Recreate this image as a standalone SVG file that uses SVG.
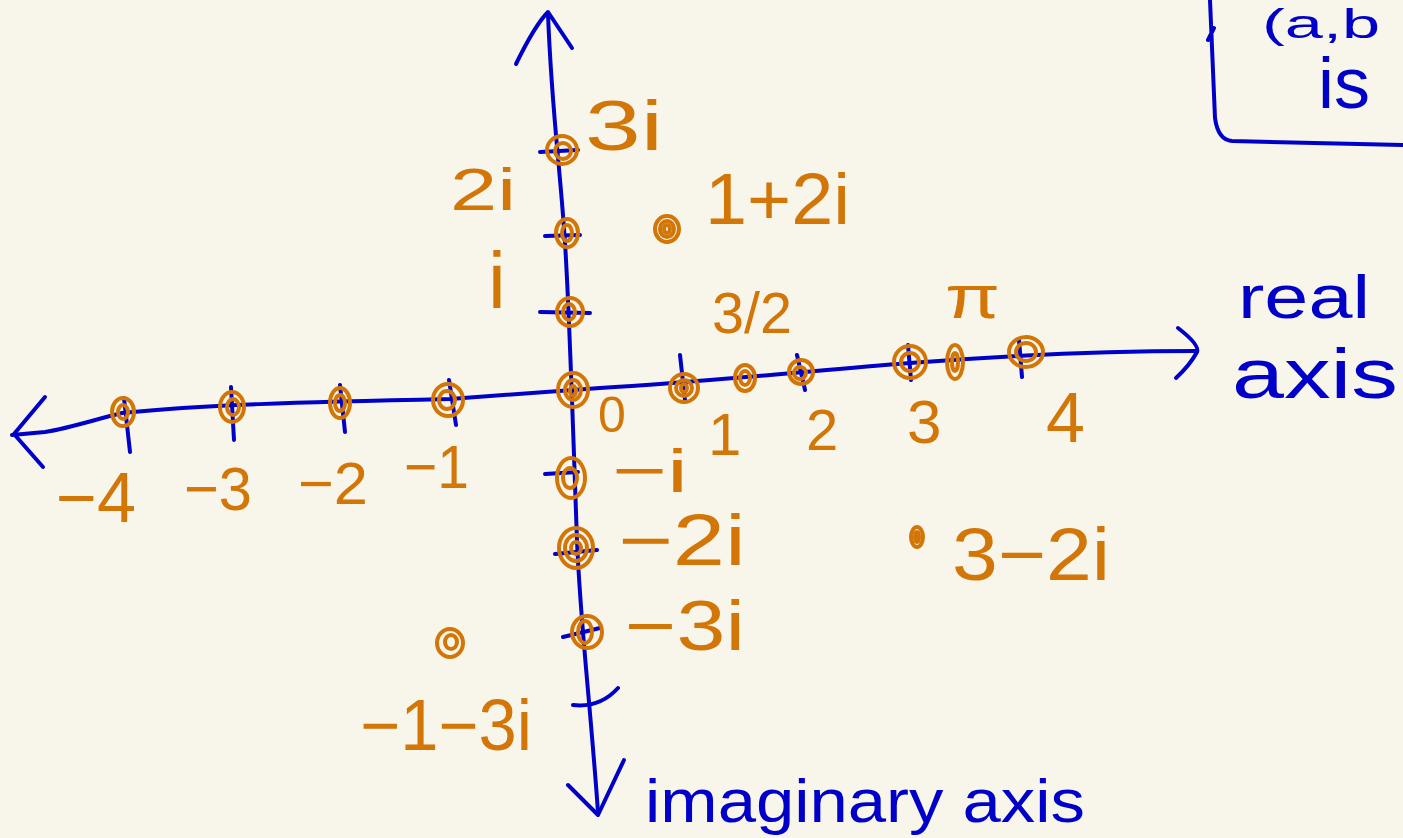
<svg xmlns="http://www.w3.org/2000/svg" width="1403" height="838" viewBox="0 0 1403 838">
<style>
.ax{fill:none;stroke:#0000c8;stroke-width:4;stroke-linecap:round;stroke-linejoin:round}
.pt{fill:none;stroke:#d27607;stroke-width:4}
.lb{fill:#d27607;font-family:"Liberation Sans",Arial,sans-serif}
.bl{fill:#0000c8;font-family:"Liberation Sans",Arial,sans-serif}
</style>
<rect width="1403" height="838" fill="#f8f6eb"/>
<g id="connectors">
<path class="ax" d="M548,14 C552,120 562,180 566,260 C570,330 573,430 577,540 C580,620 590,700 598,812"/>
<path class="ax" d="M516,64 Q535,25 548,12 Q560,30 572,48"/>
<path class="ax" d="M568,785 L598,815 L624,760"/>
<path class="ax" d="M12,435 L45,432 C70,428 100,418 122,413 C200,405 300,402 450,399 C520,394 560,391 600,388 C700,382 800,372 910,363 C1000,356 1100,351 1196,351"/>
<path class="ax" d="M45,397 L14,434 L43,467"/>
<path class="ax" d="M1178,328 Q1200,345 1197,352 Q1190,365 1176,378"/>
<path class="ax" d="M540,152 L578,150 M545,236 L580,235 M540,312 L590,313 M545,474 L578,472 M555,554 L597,550 M563,637 L600,628 M573,705 Q600,708 618,688"/>
<path class="ax" d="M124,398 L130,452 M231,387 L234,440 M340,385 L345,432 M449,380 L456,425 M680,355 L685,400 M797,355 L805,390 M908,345 L911,380 M1019,340 L1022,377"/>
<path class="ax" d="M1210,0 L1215,118 Q1218,140 1232,141 L1403,145 M1208,40 L1214,28"/>
</g>
<g id="box-text">
<text class="bl" x="1262" y="38" font-size="40" textLength="118" lengthAdjust="spacingAndGlyphs">(a,b</text>
<text class="bl" x="1318" y="108" font-size="72" textLength="52" lengthAdjust="spacingAndGlyphs">is</text>
</g>
<g id="axis-labels">
<text class="bl" x="1238" y="318" font-size="62" textLength="132" lengthAdjust="spacingAndGlyphs">real</text>
<text class="bl" x="1232" y="398" font-size="70" textLength="166" lengthAdjust="spacingAndGlyphs">axis</text>
<text class="bl" x="645" y="822" font-size="62" textLength="440" lengthAdjust="spacingAndGlyphs">imaginary axis</text>
</g>
<g id="p-3i"><ellipse class="pt" cx="562" cy="150" rx="15" ry="14"/><ellipse class="pt" cx="563" cy="151" rx="8" ry="8"/>
<text class="lb" x="585" y="150" font-size="70" textLength="78" lengthAdjust="spacingAndGlyphs">3i</text></g>
<g id="p-2i"><ellipse class="pt" cx="567" cy="233" rx="11" ry="14"/><ellipse class="pt" cx="567" cy="233" rx="5" ry="8"/>
<text class="lb" x="450" y="210" font-size="60" textLength="66" lengthAdjust="spacingAndGlyphs">2i</text></g>
<g id="p-i"><ellipse class="pt" cx="570" cy="312" rx="13" ry="14"/><ellipse class="pt" cx="569" cy="312" rx="6" ry="8"/>
<text class="lb" x="488" y="308" font-size="80">i</text></g>
<g id="p-0"><ellipse class="pt" cx="573" cy="390" rx="15" ry="17"/><ellipse class="pt" cx="573" cy="390" rx="8" ry="10"/><ellipse class="pt" cx="573" cy="391" rx="3" ry="5"/>
<text class="lb" x="598" y="432" font-size="50">0</text></g>
<g id="p-neg-i"><ellipse class="pt" cx="571" cy="478" rx="14" ry="20"/><ellipse class="pt" cx="570" cy="478" rx="7" ry="10"/>
<text class="lb" x="612" y="492" font-size="62" textLength="76" lengthAdjust="spacingAndGlyphs">−i</text></g>
<g id="p-neg-2i"><ellipse class="pt" cx="576" cy="548" rx="17" ry="20"/><ellipse class="pt" cx="576" cy="548" rx="11" ry="13"/><ellipse class="pt" cx="576" cy="548" rx="5" ry="6"/>
<text class="lb" x="618" y="565" font-size="72" textLength="128" lengthAdjust="spacingAndGlyphs">−2i</text></g>
<g id="p-neg-3i"><ellipse class="pt" cx="587" cy="632" rx="15" ry="16"/><ellipse class="pt" cx="585" cy="632" rx="7" ry="11"/>
<text class="lb" x="625" y="650" font-size="70" textLength="120" lengthAdjust="spacingAndGlyphs">−3i</text></g>
<g id="p-neg4"><ellipse class="pt" cx="123" cy="412" rx="11" ry="14"/><ellipse class="pt" cx="123" cy="412" rx="5" ry="7"/>
<text class="lb" x="56" y="522" font-size="70" textLength="80" lengthAdjust="spacingAndGlyphs">−4</text></g>
<g id="p-neg3"><ellipse class="pt" cx="232" cy="407" rx="12" ry="15"/><ellipse class="pt" cx="233" cy="407" rx="6" ry="8"/>
<text class="lb" x="184" y="510" font-size="62" textLength="68" lengthAdjust="spacingAndGlyphs">−3</text></g>
<g id="p-neg2"><ellipse class="pt" cx="340" cy="403" rx="10" ry="15"/><ellipse class="pt" cx="340" cy="403" rx="5" ry="8"/>
<text class="lb" x="298" y="504" font-size="60" textLength="70" lengthAdjust="spacingAndGlyphs">−2</text></g>
<g id="p-neg1"><ellipse class="pt" cx="448" cy="400" rx="15" ry="16"/><ellipse class="pt" cx="447" cy="400" rx="8" ry="9"/>
<text class="lb" x="404" y="488" font-size="62" textLength="65" lengthAdjust="spacingAndGlyphs">−1</text></g>
<g id="p-1"><ellipse class="pt" cx="684" cy="388" rx="14" ry="14"/><ellipse class="pt" cx="684" cy="388" rx="8" ry="8"/><ellipse class="pt" cx="684" cy="388" rx="3" ry="4"/>
<text class="lb" x="708" y="455" font-size="60">1</text></g>
<g id="p-3-2"><ellipse class="pt" cx="745" cy="378" rx="10" ry="13"/><ellipse class="pt" cx="745" cy="378" rx="5" ry="7"/>
<text class="lb" x="712" y="333" font-size="58" textLength="80" lengthAdjust="spacingAndGlyphs">3/2</text></g>
<g id="p-2"><ellipse class="pt" cx="801" cy="372" rx="12" ry="12"/><ellipse class="pt" cx="800" cy="373" rx="6" ry="6"/>
<text class="lb" x="806" y="450" font-size="58">2</text></g>
<g id="p-3"><ellipse class="pt" cx="910" cy="362" rx="16" ry="16"/><ellipse class="pt" cx="910" cy="362" rx="9" ry="9"/>
<text class="lb" x="907" y="443" font-size="62">3</text></g>
<g id="p-pi"><ellipse class="pt" cx="955" cy="362" rx="8" ry="17"/><ellipse class="pt" cx="955" cy="362" rx="3" ry="9"/>
<text class="lb" x="945" y="318" font-size="62" textLength="55" lengthAdjust="spacingAndGlyphs">π</text></g>
<g id="p-4"><ellipse class="pt" cx="1026" cy="352" rx="17" ry="15"/><ellipse class="pt" cx="1026" cy="352" rx="10" ry="9"/>
<text class="lb" x="1046" y="442" font-size="70">4</text></g>
<g id="p-1p2i"><ellipse class="pt" cx="667" cy="229" rx="12" ry="13"/><ellipse class="pt" cx="667" cy="229" rx="7" ry="8"/><ellipse class="pt" cx="667" cy="229" rx="3" ry="4"/>
<text class="lb" x="705" y="224" font-size="72" textLength="145" lengthAdjust="spacingAndGlyphs">1+2i</text></g>
<g id="p-3m2i"><ellipse class="pt" cx="917" cy="537" rx="6" ry="10"/><ellipse class="pt" cx="917" cy="537" rx="2" ry="5"/>
<text class="lb" x="952" y="580" font-size="74" textLength="158" lengthAdjust="spacingAndGlyphs">3−2i</text></g>
<g id="p-m1m3i"><ellipse class="pt" cx="450" cy="643" rx="13" ry="14"/><ellipse class="pt" cx="451" cy="642" rx="6" ry="7"/>
<text class="lb" x="360" y="750" font-size="72" textLength="172" lengthAdjust="spacingAndGlyphs">−1−3i</text></g>
</svg>
